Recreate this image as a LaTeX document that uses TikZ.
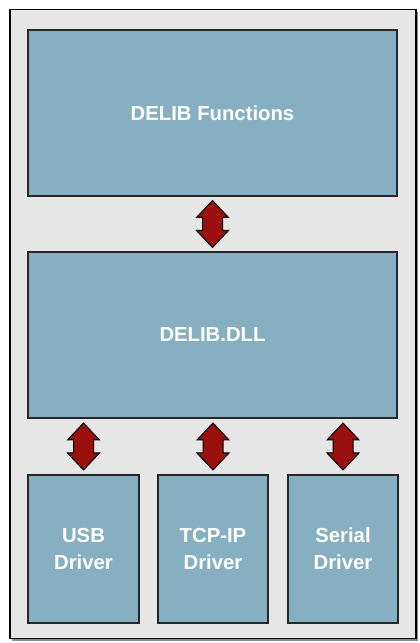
\documentclass[tikz,border=0pt]{standalone}
\usepackage{fontspec}
\setmainfont{Liberation Sans}
\usetikzlibrary{calc}
\definecolor{boxfill}{HTML}{86AFC1}
\definecolor{framefill}{HTML}{E6E6E6}
\definecolor{arrowred}{HTML}{9B0F0F}
\tikzset{
  box/.style={draw=black!85, line width=1.3pt, fill=boxfill, anchor=north west,
    inner sep=0pt, outer sep=0pt, text=white, align=center,
    font=\fontsize{20.3}{27}\selectfont\bfseries},
  dbl/.pic={
    \filldraw[fill=arrowred, draw=black, line width=1pt, line join=miter]
      (0,23.5) -- (16,6.5) -- (10,6.5) -- (10,-6.5) -- (16,-6.5) -- (0,-23.5)
      -- (-16,-6.5) -- (-10,-6.5) -- (-10,6.5) -- (-16,6.5) -- cycle;
  }
}
\begin{document}
\begin{tikzpicture}[x=1pt,y=1pt]
\useasboundingbox (0,0) rectangle (420,643);
% shadow and frame
\fill[black!45] (12,2) rectangle (418,631);
\node[draw=black, line width=1.5pt, fill=framefill, anchor=north west, inner sep=0pt,
  minimum width=406pt, minimum height=629pt] (frame) at (9,634) {};
% boxes
\node[box, minimum width=369pt, minimum height=166pt] (func) at (28,613) {DELIB Functions};
\node[box, minimum width=369pt, minimum height=166pt] (dll) at (28,391) {DELIB.DLL};
\node[box, minimum width=111pt, minimum height=148pt] (usb) at (28,168) {USB\\Driver};
\node[box, minimum width=110pt, minimum height=148pt] (tcp) at (158,168) {TCP-IP\\Driver};
\node[box, minimum width=110pt, minimum height=148pt] (ser) at (288,168) {Serial\\Driver};
% arrows
\path let \p1=(func.south), \p2=(dll.north) in (\x1,{(\y1+\y2)/2}) pic {dbl};
\path let \p1=(dll.south), \p2=(usb.north) in (\x2,{(\y1+\y2)/2}) pic {dbl};
\path let \p1=(dll.south), \p2=(tcp.north) in (\x2,{(\y1+\y2)/2}) pic {dbl};
\path let \p1=(dll.south), \p2=(ser.north) in (\x2,{(\y1+\y2)/2}) pic {dbl};
\end{tikzpicture}
\end{document}
